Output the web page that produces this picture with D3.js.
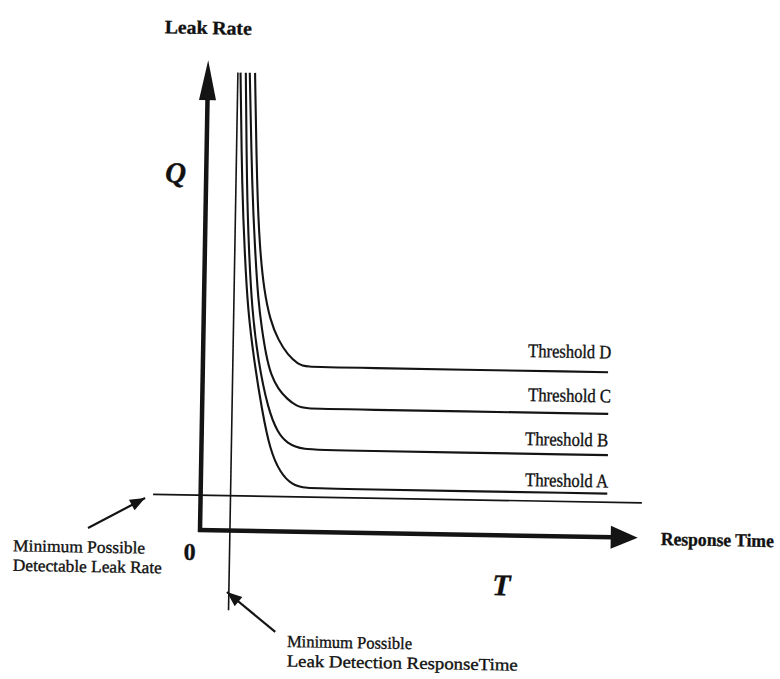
<!DOCTYPE html>
<html lang="en">
<head>
<meta charset="UTF-8">
<title>Leak Rate vs Response Time</title>
<script src="https://d3js.org/d3.v7.min.js"></script>
<style>
  body { margin: 0; background: #fff; }
  text { font-family: "Liberation Serif", "DejaVu Serif", serif; fill: #111; stroke: #111; stroke-width: 0.35; }
</style>
</head>
<body>
<svg width="780" height="679"></svg>
<script>
// readings, in arbitrary units (T: 0..100, Q: 0..100)
var thresholds = ['Threshold A', 'Threshold B', 'Threshold C', 'Threshold D']

var curveA_t = [7.4, 8.2, 9.1, 10.0, 11.6, 13.6, 15.6, 18.0, 20.7, 23.7, 30, 92.4]
var curveA_q = [100, 74.4, 60.2, 48.2, 37.3, 26.4, 17.7, 12.8, 10.2, 9.5, 9.5, 9.5]

var curveB_t = [8.6, 9.3, 10.0, 10.95, 12.5, 15.0, 17.3, 19.4, 22.9, 30, 92.4]
var curveB_q = [100, 74.4, 61.3, 48.2, 37.3, 26.5, 21.5, 19.3, 17.9, 17.9, 17.9]

var curveC_t = [9.5, 10.5, 11.4, 12.3, 13.3, 14.3, 15.5, 17.2, 19.3, 21.5, 23.4, 30, 92.3]
var curveC_q = [100, 74.4, 61.4, 50.4, 43.9, 38.5, 34.1, 31.1, 28.9, 27.4, 26.9, 26.9, 26.9]

var curveD_t = [10.7, 11.6, 12.5, 13.6, 15.1, 17.0, 19.3, 21.6, 23.4, 30, 92.1]
var curveD_q = [100, 74.5, 61.4, 52.6, 46.1, 41.8, 38.5, 36.6, 36.0, 36.0, 36.0]

var minLeakRate = 7.6          // minimum possible detectable leak rate
var minLeakRateSpan = [-10.8, 100.3]
var minResponseTime = 6.8      // minimum possible leak detection response time
var minResponseSpan = [-17.4, 100]

var curvesT = [curveA_t, curveB_t, curveC_t, curveD_t]
var curvesQ = [curveA_q, curveB_q, curveC_q, curveD_q]

var svg = d3.select('svg')

var x = d3.scaleLinear().domain([0, 100]).range([200, 640])
var y = d3.scaleLinear().domain([0, 100]).range([530, 72])

// the original is a scan, tilted about one degree
var g = svg.append('g')
    .attr('transform', `rotate(1, ${x(0)}, ${y(0)})`)

var ink = '#141414'

function arrowHead(tipX, tipY, fromX, fromY, len, half) {
    var a = Math.atan2(tipY - fromY, tipX - fromX)
    var bx = tipX - len * Math.cos(a), by = tipY - len * Math.sin(a)
    var px = -Math.sin(a) * half, py = Math.cos(a) * half
    return `M${tipX},${tipY}L${bx + px},${by + py}L${bx - px},${by - py}Z`
}

// axes
g.append('line')
    .attr('x1', x(0)).attr('y1', y(0) + 2)
    .attr('x2', x(0)).attr('y2', y(94))
    .attr('stroke', ink).attr('stroke-width', 4.5)
g.append('path')
    .attr('d', arrowHead(x(0), y(102.6), x(0), y(0), 40, 8.5))
    .attr('fill', ink)

g.append('line')
    .attr('x1', x(0) - 2).attr('y1', y(0))
    .attr('x2', x(94)).attr('y2', y(0))
    .attr('stroke', ink).attr('stroke-width', 4.5)
g.append('path')
    .attr('d', arrowHead(x(99.5), y(0), x(0), y(0), 27, 11.5))
    .attr('fill', ink)

// minimum lines
g.append('line')
    .attr('x1', x(minLeakRateSpan[0])).attr('y1', y(minLeakRate))
    .attr('x2', x(minLeakRateSpan[1])).attr('y2', y(minLeakRate))
    .attr('stroke', ink).attr('stroke-width', 1.6)

g.append('line')
    .attr('x1', x(minResponseTime)).attr('y1', y(minResponseSpan[1]))
    .attr('x2', x(minResponseTime)).attr('y2', y(minResponseSpan[0]))
    .attr('stroke', ink).attr('stroke-width', 1.6)

// threshold curves
var line = d3.line()
    .x(d => x(d[0]))
    .y(d => y(d[1]))
    .curve(d3.curveBasis)

curvesT.forEach((ts, i) => {
    g.append('path')
        .attr('d', line(ts.map((t, j) => [t, curvesQ[i][j]])))
        .attr('fill', 'none')
        .attr('stroke', ink)
        .attr('stroke-width', 2.1)
})

// threshold labels (left baseline positions)
var labelX = [324.2, 323.5, 325.7, 325]
var labelY = [480.3, 439.3, 395.3, 351.3]
thresholds.forEach((name, i) => {
    g.append('text')
        .attr('x', x(0) + labelX[i])
        .attr('y', labelY[i])
        .attr('font-size', 19)
        .attr('textLength', 83)
        .attr('lengthAdjust', 'spacingAndGlyphs')
        .text(name)
})

// axis titles
g.append('text')
    .attr('x', 156).attr('y', 34)
    .attr('font-size', 19).attr('font-weight', 'bold')
    .attr('textLength', 87).attr('lengthAdjust', 'spacingAndGlyphs')
    .text('Leak Rate')

g.append('text')
    .attr('x', 661).attr('y', 537)
    .attr('font-size', 18.5).attr('font-weight', 'bold')
    .attr('textLength', 113).attr('lengthAdjust', 'spacingAndGlyphs')
    .text('Response Time')

g.append('text')
    .attr('x', 159).attr('y', 183)
    .attr('font-size', 29).attr('font-weight', 'bold').attr('font-style', 'italic')
    .text('Q')

g.append('text')
    .attr('x', 493).attr('y', 590)
    .attr('font-size', 30).attr('font-weight', 'bold').attr('font-style', 'italic')
    .text('T')

g.append('text')
    .attr('x', 184).attr('y', 560)
    .attr('font-size', 24).attr('font-weight', 'bold')
    .text('0')

// annotations
function note(lines, lx, ly, widths, fromPt, toPt) {
    lines.forEach((s, i) => {
        g.append('text')
            .attr('x', lx).attr('y', ly + i * 19.5)
            .attr('font-size', 17)
            .attr('textLength', widths[i]).attr('lengthAdjust', 'spacingAndGlyphs')
            .text(s)
    })
    g.append('line')
        .attr('x1', fromPt[0]).attr('y1', fromPt[1])
        .attr('x2', toPt[0]).attr('y2', toPt[1])
        .attr('stroke', ink).attr('stroke-width', 2.2)
    g.append('path')
        .attr('d', arrowHead(toPt[0], toPt[1], fromPt[0], fromPt[1], 15, 6))
        .attr('fill', ink)
}

note(['Minimum Possible', 'Detectable Leak Rate'], 13.5, 554.5, [132, 149],
    [88, 530], [144.5, 499])

note(['Minimum Possible', 'Leak Detection ResponseTime'], 289, 645.5, [125, 231],
    [277, 630.5], [228, 591.5])
</script>
</body>
</html>
